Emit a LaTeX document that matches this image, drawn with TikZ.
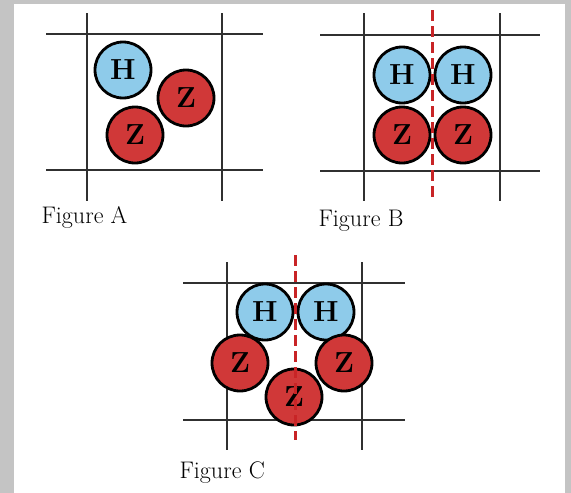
\documentclass[tikz,border=0pt]{standalone}
\usepackage{tikz}
\usetikzlibrary{positioning}
\definecolor{atomblue}{RGB}{142,203,234}
\definecolor{atomred}{RGB}{208,56,56}
\definecolor{gridgray}{RGB}{48,48,48}
\definecolor{frame}{RGB}{196,196,196}
\definecolor{cutred}{RGB}{200,36,38}

\begin{document}
\begin{tikzpicture}[
  x=1pt,y=-1pt,
  atom/.style={circle,draw=black,line width=2.8pt,minimum size=56pt,inner sep=0pt,
               font=\fontsize{29}{29}\selectfont\bfseries},
  hatom/.style={atom,fill=atomblue},
  zatom/.style={atom,fill=atomred},
  gridline/.style={gridgray,line width=1.8pt},
  cutline/.style={cutred,line width=3pt,dash pattern=on 11pt off 5pt},
  caption/.style={font=\fontsize{24}{24}\selectfont,anchor=west},
]
  % Frame
  \fill[frame] (0,0) rectangle (571,493);
  \fill[white] (14,4) rectangle (565,493);
  \useasboundingbox (0,0) rectangle (571,493);

  % Figure A
  \draw[gridline] (46,34) -- (263,34) (46,170) -- (263,170);
  \draw[gridline] (87,13) -- (87,201) (222,13) -- (222,201);
  \node[hatom] (ah) at (123,70) {H};
  \node[zatom] (az1) at (186,98) {Z};
  \node[zatom] (az2) at (135,135) {Z};
  \node[caption] (capa) at (38,217) {Figure A};

  % Figure B
  \draw[gridline] (320,35) -- (540,35) (320,171) -- (540,171);
  \draw[gridline] (364,13) -- (364,201) (500,13) -- (500,201);
  \node[hatom] (bh1) at (402,75) {H};
  \node[hatom] (bh2) at (463,75) {H};
  \node[zatom] (bz1) at (402,135) {Z};
  \node[zatom] (bz2) at (463,135) {Z};
  \draw[cutline] (432,10) -- (432,197);
  \node[caption] (capb) at (315,221) {Figure B};

  % Figure C
  \draw[gridline] (183,283) -- (405,283) (183,420) -- (405,420);
  \draw[gridline] (227,262) -- (227,450) (362,262) -- (362,450);
  \node[hatom] (ch1) at (265,312) {H};
  \node[hatom] (ch2) at (326,312) {H};
  \node[zatom] (cz1) at (240,363) {Z};
  \node[zatom] (cz2) at (344,363) {Z};
  \node[zatom] (cz3) at (294,397) {Z};
  \draw[cutline] (295,255) -- (295,440);
  \node[caption] (capc) at (176,473) {Figure C};
\end{tikzpicture}
\end{document}
